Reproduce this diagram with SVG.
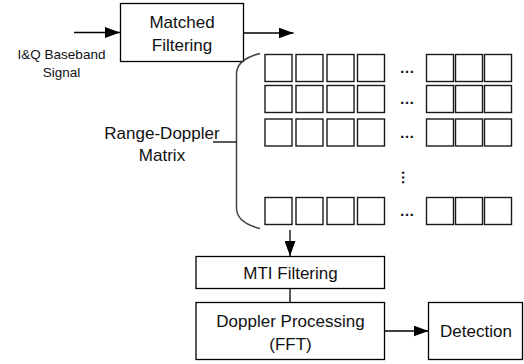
<svg xmlns="http://www.w3.org/2000/svg" width="524" height="364" viewBox="0 0 524 364">
<style>
.box{fill:#fff;stroke:#000;stroke-width:1.3}
.cell{fill:#fff;stroke:#1a1a1a;stroke-width:1.4}
.lbl{font-family:"Liberation Sans",Arial,sans-serif;font-size:17px;fill:#111;text-anchor:middle}
.sm{font-family:"Liberation Sans",Arial,sans-serif;font-size:13.5px;fill:#111;text-anchor:middle}
.dots{font-family:"Liberation Sans",Arial,sans-serif;font-size:15px;font-weight:bold;fill:#111;text-anchor:middle}
.conn{fill:none;stroke:#000;stroke-width:1.3}
.brace{fill:none;stroke:#444;stroke-width:1.5}
</style>
<defs>
<marker id="ah" markerUnits="userSpaceOnUse" markerWidth="15" markerHeight="11" refX="15" refY="5.5" orient="auto">
<path d="M0,0 L15,5.5 L0,11 Z" fill="#000"/>
</marker>
</defs>

<g id="connectors">
<line class="conn" x1="74" y1="32.5" x2="120" y2="32.5" marker-end="url(#ah)"/>
<line class="conn" x1="243.5" y1="33" x2="293.5" y2="33" marker-end="url(#ah)"/>
<line class="conn" x1="290" y1="230" x2="290" y2="256" marker-end="url(#ah)"/>
<line class="conn" x1="290" y1="288.5" x2="290" y2="302.5"/>
<line class="conn" x1="384.5" y1="331" x2="428.5" y2="331" marker-end="url(#ah)"/>
</g>

<g id="input-label">
<text class="sm" x="61.5" y="59">I&amp;Q Baseband</text>
<text class="sm" x="61.5" y="76.5">Signal</text>
</g>

<g id="matched-filtering">
<rect class="box" x="120.5" y="3.5" width="123" height="58"/>
<text class="lbl" x="182" y="27.5">Matched</text>
<text class="lbl" x="182" y="50.5">Filtering</text>
</g>

<g id="range-doppler-matrix">
<path class="brace" d="M260,53.5 C246,57 236.5,63 236.5,74 L236.5,208 C236.5,218 246,225 260,228.5"/>
<line class="conn" x1="213" y1="142" x2="236.5" y2="142"/>
<text class="lbl" x="162" y="138.5">Range-Doppler</text>
<text class="lbl" x="162" y="161">Matrix</text>
<g id="row1">
<rect class="cell" x="265" y="54.5" width="27" height="27"/>
<rect class="cell" x="296" y="54.5" width="27" height="27"/>
<rect class="cell" x="327" y="54.5" width="27" height="27"/>
<rect class="cell" x="357.5" y="54.5" width="27" height="27"/>
<text class="dots" x="407" y="73">…</text>
<rect class="cell" x="426.5" y="54.5" width="27" height="27"/>
<rect class="cell" x="455.5" y="54.5" width="27" height="27"/>
<rect class="cell" x="484.5" y="54.5" width="27" height="27"/>
</g>
<g id="row2">
<rect class="cell" x="265" y="85.5" width="27" height="27"/>
<rect class="cell" x="296" y="85.5" width="27" height="27"/>
<rect class="cell" x="327" y="85.5" width="27" height="27"/>
<rect class="cell" x="357.5" y="85.5" width="27" height="27"/>
<text class="dots" x="407" y="104">…</text>
<rect class="cell" x="426.5" y="85.5" width="27" height="27"/>
<rect class="cell" x="455.5" y="85.5" width="27" height="27"/>
<rect class="cell" x="484.5" y="85.5" width="27" height="27"/>
</g>
<g id="row3">
<rect class="cell" x="265" y="119" width="27" height="27"/>
<rect class="cell" x="296" y="119" width="27" height="27"/>
<rect class="cell" x="327" y="119" width="27" height="27"/>
<rect class="cell" x="357.5" y="119" width="27" height="27"/>
<text class="dots" x="407" y="137.5">…</text>
<rect class="cell" x="426.5" y="119" width="27" height="27"/>
<rect class="cell" x="455.5" y="119" width="27" height="27"/>
<rect class="cell" x="484.5" y="119" width="27" height="27"/>
</g>
<text class="dots" transform="translate(406,177.5) rotate(90)" x="0" y="4">…</text>
<g id="row4">
<rect class="cell" x="265" y="197.5" width="27" height="27"/>
<rect class="cell" x="296" y="197.5" width="27" height="27"/>
<rect class="cell" x="327" y="197.5" width="27" height="27"/>
<rect class="cell" x="357.5" y="197.5" width="27" height="27"/>
<text class="dots" x="407" y="216">…</text>
<rect class="cell" x="426.5" y="197.5" width="27" height="27"/>
<rect class="cell" x="455.5" y="197.5" width="27" height="27"/>
<rect class="cell" x="484.5" y="197.5" width="27" height="27"/>
</g>
</g>

<g id="mti-filtering">
<rect class="box" x="196" y="256.5" width="188.5" height="32"/>
<text class="lbl" x="290.5" y="279">MTI Filtering</text>
</g>

<g id="doppler-processing">
<rect class="box" x="196" y="302.5" width="188.5" height="57"/>
<text class="lbl" x="290.5" y="327">Doppler Processing</text>
<text class="lbl" x="290.5" y="350">(FFT)</text>
</g>

<g id="detection">
<rect class="box" x="428.5" y="302.5" width="94" height="57"/>
<text class="lbl" x="476" y="337">Detection</text>
</g>
</svg>
